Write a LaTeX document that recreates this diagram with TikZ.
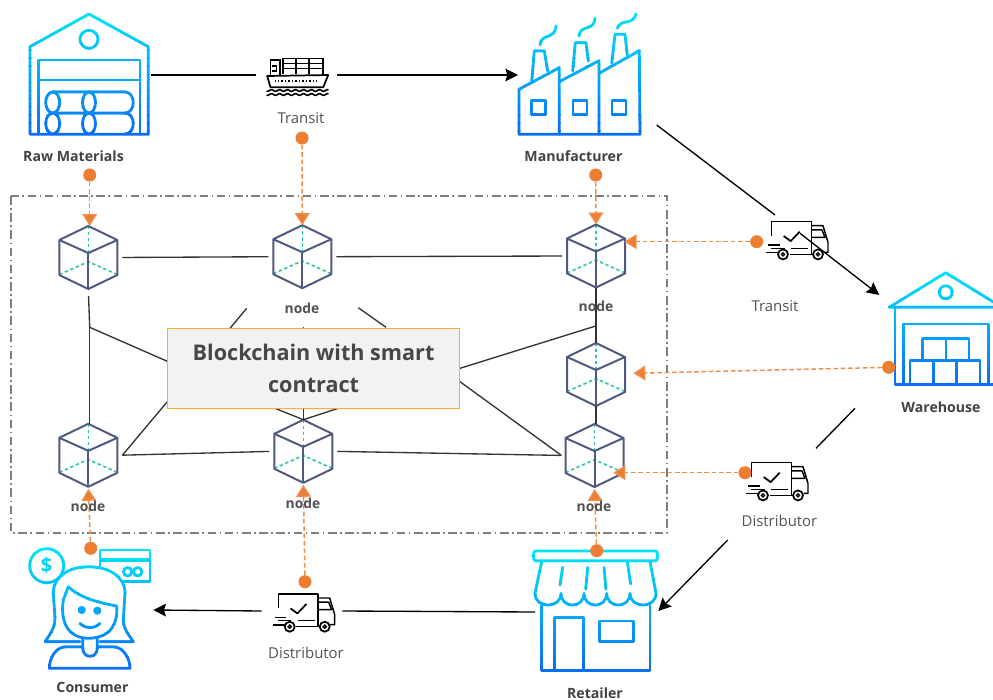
\documentclass[tikz,border=0pt]{standalone}
\usepackage{fontspec}
\setmainfont{Open Sans}
\usetikzlibrary{arrows.meta}

\definecolor{icontop}{HTML}{00E5F7}
\definecolor{iconbot}{HTML}{0A6EF5}
\definecolor{dotorange}{HTML}{ED7D31}
\definecolor{dashorange}{HTML}{F08C4C}
\definecolor{cubeblue}{HTML}{4E5A80}
\definecolor{cubegreen}{HTML}{2EC4A6}
\definecolor{framegray}{HTML}{7F7F7F}
\definecolor{linegray}{HTML}{333333}
\definecolor{boxorange}{HTML}{FFAB33}
\definecolor{boxfill}{HTML}{F2F2F2}

\tikzset{
  hull/.style={inner sep=0pt, outer sep=0pt},
  iconline/.style={draw=iconcol, line width=2.1pt, line join=round, line cap=round},
  blockbox/.style={hull, minimum width=43.5pt, minimum height=47.25pt},
  link/.style={draw=linegray, line width=1pt},
  gap/.style={shorten <=3.75pt, shorten >=3.75pt},
  flow/.style={draw=black, line width=1pt},
  flowtip/.style={flow, -{Stealth[length=9.5pt,width=9.5pt,inset=1.5pt]}},
  dot/.style={circle, fill=dotorange, inner sep=0pt, minimum size=9.75pt},
  mark line/.style={draw=dashorange, line width=1.1pt, dash pattern=on 3.5pt off 2pt,
    -{Triangle[length=9pt,width=11pt,fill=dotorange]}},
  plainlabel/.style={hull, text=black!68, font=\fontsize{11.2}{13}\selectfont},
  boldlabel/.style={hull, text=black!74, font=\fontsize{10.6}{13}\selectfont\bfseries},
  nodelabel/.style={hull, text=black!68, font=\fontsize{10.4}{13}\selectfont\bfseries},
  cube/.pic={
    \draw[cubegreen, line width=1.2pt, dash pattern=on 2.5pt off 2pt] (0,-31.5) -- (0,-4.5);
    \draw[cubegreen, line width=1.2pt, dash pattern=on 2.5pt off 2pt] (-29,17) -- (0,4.2) -- (29,17);
    \draw[cubeblue, line width=1.5pt, line join=round] (0,-31.5) -- (29,-17.5) -- (29,17.5) -- (0,31.5) -- (-29,17.5) -- (-29,-17.5) -- cycle;
    \draw[cubeblue, line width=1.5pt] (-29,-17.5) -- (0,-4.5) -- (29,-17.5);
    \draw[cubeblue, line width=1.5pt] (0,-4.5) -- (0,31.5);
  },
  truck/.pic={
    \draw[black, line width=1.1pt, line join=round] (-26.3,-4.3) -- (-26.3,-18.7) -- (13.3,-18.7) -- (13.3,14) -- (-8.3,14);
    \draw[black, line width=1.1pt] (-6.7,8) -- (10,8);
    \draw[black, line width=1.1pt, line join=round] (13.3,-14.7) -- (25,-14.7) -- (30,2) -- (30,12) -- (25.5,12);
    \draw[black, line width=1.1pt, line join=round] (13.3,-10.5) -- (24,-10.5) -- (27,-3) -- (13.3,-3);
    \draw[black, line width=1.1pt] (-30,4.7) -- (-18.3,4.7);
    \draw[black, line width=1.1pt] (-26.7,8) -- (-13.3,8);
    \draw[black, line width=1.1pt] (-31.7,12.3) -- (-20,12.3);
    \draw[black, line width=1.3pt] (-15,14) circle (5);
    \draw[black, line width=1.3pt] (20,14) circle (5);
    \draw[black, line width=1pt] (-15,14) circle (1.6);
    \draw[black, line width=1pt] (20,14) circle (1.6);
    \draw[black, line width=1.3pt, line join=round] (-14.3,-4.3) -- (-7.3,0.7) -- (1.7,-8.7);
  }
}

\newcommand{\gradicon}[3]{
  \foreach \k in {0,...,15}{
    \pgfmathsetmacro{\mixval}{100*\k/15}
    \pgfmathsetmacro{\ya}{#1+(#2-#1)*\k/16}
    \pgfmathsetmacro{\yb}{#1+(#2-#1)*(\k+1)/16+0.4}
    \colorlet{iconcol}{iconbot!\mixval!icontop}
    \begin{scope}
      \clip (0,\ya) rectangle (993,\yb);
      #3
    \end{scope}
  }
}

\begin{document}
\begin{tikzpicture}[x=0.75pt,y=-0.75pt]
\useasboundingbox (0,0) rectangle (993,700);

\draw[framegray, line width=1.5pt, dash pattern=on 6.5pt off 2.6pt on 1.2pt off 2.6pt] (11,196) rectangle (667.3,532.7);

\gradicon{9}{139}{
  \draw[iconline] (30,134.3) -- (30,46.7) -- (89,14) -- (148.3,46.7) -- (148.3,134.3) -- cycle;
  \draw[iconline] (89,39.3) circle (9);
  \draw[iconline] (38.3,134.3) -- (38.3,60) -- (140,60) -- (140,134.3);
  \draw[iconline] (38.3,80) -- (140,80);
  \draw[iconline] (52.7,92) -- (125,92) .. controls (136,92) and (136,113) .. (125,113) -- (52.7,113);
  \draw[iconline] (125,113) .. controls (136,113) and (136,134) .. (125,134);
  \draw[iconline] (52.7,102.5) ellipse (7 and 10.5);
  \draw[iconline] (52.7,123.5) ellipse (7 and 10.5);
  \draw[iconline] (89,102.5) ellipse (6.5 and 10.5);
  \draw[iconline] (89,123.5) ellipse (6.5 and 10.5);
}

\gradicon{9}{139}{
  \draw[iconline] (519,134.3) -- (519,89.3) -- (559.3,67.7) -- (559.3,134.3);
  \draw[iconline] (559.3,81.7) -- (599,60.7) -- (599,134.3);
  \draw[iconline] (599,73.3) -- (639.3,50.7) -- (640,134.3) -- (519,134.3);
  \draw[iconline] (531.7,81.7) -- (534.3,51) -- (544.3,51) -- (547.7,71);
  \draw[iconline] (572.7,71) -- (575.3,42.7) -- (586,42.7) -- (588.3,61);
  \draw[iconline] (611.7,63.3) -- (615,34.3) -- (625,34.3) -- (627.3,55);
  \draw[iconline] (540,45) .. controls (541,33) and (555,40) .. (556,26);
  \draw[iconline] (579,36) .. controls (580,24) and (594,32) .. (595,18.3);
  \draw[iconline] (617.3,28.3) .. controls (621,18) and (633,26) .. (636,14);
  \draw[iconline] (531.7,100.3) rectangle (545.7,114.3);
  \draw[iconline] (573,100.3) rectangle (587,114.3);
  \draw[iconline] (612,100.3) rectangle (626,114.3);
}

\gradicon{268}{389}{
  \draw[iconline] (889.3,307.3) -- (945.7,272.7) -- (1002,307.3) -- cycle;
  \draw[iconline] (945.7,292.3) circle (6.5);
  \draw[iconline] (895,307.3) -- (895,384.3) -- (1000,384.3);
  \draw[iconline] (903.3,384.3) -- (903.3,324) -- (988.3,324) -- (988.3,384.3);
  \draw[iconline] (922.3,360) -- (922.3,338.3) -- (969,338.3) -- (969,360);
  \draw[iconline] (946,338.3) -- (946,360);
  \draw[iconline] (910,384.3) -- (910,360.7) -- (980,360.7) -- (980,384.3);
  \draw[iconline] (933.3,360.7) -- (933.3,384.3);
  \draw[iconline] (956.7,360.7) -- (956.7,384.3);
}

\gradicon{546}{675}{
  \draw[iconline] (535,551) -- (656,551) .. controls (658,551) and (658,560.7) .. (656,560.7) -- (535,560.7) .. controls (533,560.7) and (533,551) .. (535,551);
  \draw[iconline] (541.7,561.7) -- (535,593.3) .. controls (535,609) and (561,609) .. (561,593.3) .. controls (561,609) and (584,609) .. (584,593.3) .. controls (584,609) and (606.7,609) .. (606.7,593.3) .. controls (606.7,609) and (630,609) .. (630,593.3) .. controls (630,609) and (656,609) .. (656,593.3) -- (650,561.7);
  \draw[iconline] (562.7,567.3) -- (560,585);
  \draw[iconline] (587.7,567.3) -- (585.7,589.3);
  \draw[iconline] (604,567.3) -- (606,589.3);
  \draw[iconline] (627.3,561.7) -- (630.7,584);
  \draw[iconline] (541.7,605) -- (541.7,670.7) -- (650,670.7) -- (650,605);
  \draw[iconline] (554.3,670.7) -- (554.3,617.3) -- (583.3,617.3) -- (583.3,670.7);
  \draw[iconline] (599.3,621) rectangle (633.3,641.7);
}

\gradicon{544}{672}{
  \draw[iconline] (46.7,565.7) circle (17);
  \draw[iconline] (100,566.7) -- (100,550) -- (150,550) -- (150,581.7) -- (123,581.7);
  \draw[iconline, line width=3.6pt, line cap=butt] (100,560) -- (150,560);
  \draw[iconline] (127.7,571.7) circle (4.2);
  \draw[iconline] (137.7,571.7) circle (4.2);
  \draw[iconline] (80,641.7) -- (45,641.7) .. controls (52,632) and (55,626) .. (55,618.3) -- (53.3,593) .. controls (53.3,576) and (70,566.7) .. (88.3,566.7) .. controls (108,566.7) and (125,576) .. (125,593) -- (123.3,620) .. controls (123.3,628) and (128,634) .. (133.3,641.7) -- (100,641.7);
  \draw[iconline] (68.3,586.7) .. controls (80,598) and (100,603) .. (116.7,606) .. controls (118,622) and (112,638) .. (88.3,638.3) .. controls (68,638) and (60,622) .. (63.3,600) -- (68.3,586.7);
  \draw[iconline, fill=iconcol] (81.7,610) circle (2.6);
  \draw[iconline, fill=iconcol] (97.3,610.7) circle (2.6);
  \draw[iconline] (80,623.3) .. controls (85,629) and (95,629) .. (100,623.3);
  \draw[iconline] (82.7,638.3) -- (82.7,648) .. controls (82.7,659) and (97.3,659) .. (97.3,648) -- (97.3,638.3);
  \draw[iconline] (82.7,646.7) -- (66,646.7) .. controls (56,646.7) and (49.3,658) .. (49.3,668.3) -- (130,668.3) .. controls (130,658) and (123,646.7) .. (113,646.7) -- (97.3,646.7);
}

\node[hull, text=icontop!85!iconbot, font=\fontsize{15}{15}\selectfont\bfseries] (dollar) at (46.7,565.7) {\$};

\node[hull, minimum width=93pt, minimum height=91.5pt] (rawmat) at (89,75) {};
\node[hull, minimum width=60.75pt, minimum height=30pt] (ship) at (296.5,75) {};
\node[hull, minimum width=91.5pt, minimum height=91.5pt] (factory) at (579,75) {};
\node[hull, minimum width=90.75pt, minimum height=90pt] (shop) at (595.5,612) {};
\node[hull, minimum width=60.45pt, minimum height=30pt] (truckC) at (302,611) {};
\node[hull, minimum width=94.95pt, minimum height=90pt] (buyer) at (90,610) {};

\begin{scope}[shift={(297.5,76)}]
\draw[black, line width=1.3pt, line join=round] (-30.3,0) -- (-27,11.3) -- (25.7,11.3) -- (30.7,-1) -- cycle;
\draw[black, line width=1.2pt] (-27,0) -- (-27,-16) -- (-17.7,-16) -- (-17.7,0);
\draw[black, line width=1.2pt] (-26,-10) -- (-21,-10) -- (-21,-5) -- (-26,-5);
\draw[black, line width=1.2pt] (-14.3,-2) -- (-14.3,-17.7) -- (25.7,-17.7) -- (25.7,-2);
\draw[black, line width=1.2pt] (-1.7,-17.7) -- (-1.7,-2);
\draw[black, line width=1.2pt] (11.7,-17.7) -- (11.7,-2);
\draw[black, line width=1.2pt] (-14.3,-12.7) -- (25.7,-12.7);
\draw[black, line width=1.2pt] (-14.3,-7.7) -- (25.7,-7.7);
\draw[black, line width=1.2pt, dash pattern=on 1pt off 1.6pt] (-23,5) -- (21,5);
\draw[black, line width=1.2pt] plot[domain=-31:31, samples=50] (\x,{14.5+0.9*sin(\x*45)});
\draw[black, line width=1.2pt] plot[domain=-31:31, samples=50] (\x,{18.5+0.9*sin(\x*45)});
\end{scope}

\pic at (798,240.4) {truck};
\pic at (778,481.4) {truck};
\pic at (304.7,612.7) {truck};

\foreach \name/\x/\y in {blockA/88.3/257.5, blockB/302.3/256.7, blockC/596/256, blockD/596/374.5, blockE/594.5/455.5, blockF/88.3/455.3, blockG/303.3/451.3}{
  \node[blockbox] (\name) at (\x,\y) {};
  \pic at (\x,\y) {cube};
}

\coordinate (joinleft) at (89.7,327.3);
\coordinate (joinright) at (596.7,325.7);
\coordinate (joinlow) at (303.3,419.7);
\coordinate (boxleftA) at (167.3,361.3);
\coordinate (boxleftB) at (167.3,401.7);
\coordinate (boxrightA) at (460,368.3);
\coordinate (boxrightB) at (460,381.7);
\coordinate (spurA) at (246.7,308.3);
\coordinate (spurAend) at (230,328.3);
\coordinate (spurB) at (358.3,307.7);
\coordinate (spurBend) at (386,327.3);
\coordinate (spurC) at (303.7,326.7);
\coordinate (spurCend) at (303.7,332);
\coordinate (lowA) at (275,408.3);
\coordinate (lowB) at (303.3,408.3);
\coordinate (lowC) at (338.3,408.3);

\draw[link, gap] (blockA.east) -- (blockB.west);
\draw[link, gap] (blockB.east) -- (blockC.west);
\draw[link, gap] (blockF.east) -- (blockG.west);
\draw[link, gap] (blockG.east) -- (blockE.west);
\draw[link, shorten <=5.25pt] (blockA.south) -- (joinleft);
\draw[link] (joinleft) -- (blockF.north -| joinleft);
\draw[link] (joinleft) -- (boxleftA);
\draw[link] ([xshift=3.75pt]blockF.east) -- (boxleftB);
\draw[link] (blockC.south) -- (blockD.north);
\draw[link] (joinright) -- (boxrightA);
\draw[link] (blockD.south) -- (blockE.north -| blockD.south);
\draw[link] (boxrightB) -- ([xshift=-3pt]blockE.west);
\draw[link] (spurA) -- (spurAend);
\draw[link] (spurB) -- (spurBend);
\draw[link] (spurC) -- (spurCend);
\draw[link] (lowA) -- (joinlow);
\draw[link] (lowB) -- (joinlow);
\draw[link] (lowC) -- (joinlow);

\node[hull, draw=boxorange, line width=0.9pt, fill=boxfill, minimum width=219pt, minimum height=60pt, align=center, text=black!72, font=\fontsize{16.2}{24}\selectfont\bfseries] (chainbox) at (313.6,368.3) {Blockchain with smart\\contract};

\node[dot] (dotraw) at (89.7,175) {};
\node[dot] (dotship) at (302,138) {};
\node[dot] (dotfactory) at (595.7,175) {};
\node[dot] (dottruckA) at (756.7,241.7) {};
\node[dot] (dothouse) at (888.7,367.3) {};
\node[dot] (dottruckB) at (745,472.7) {};
\node[dot] (dotshop) at (596.7,550.7) {};
\node[dot] (dottruckC) at (305,581.7) {};
\node[dot] (dotbuyer) at (90.7,548.3) {};

\coordinate (tipblockD) at (633.3,373.3);
\coordinate (tipblockE) at (613.3,472.7);
\coordinate (tipblockC) at (624.5,241.7);

\draw[mark line] (dotraw) -- (dotraw |- blockA.north);
\draw[mark line] (dotship) -- (blockB.north);
\draw[mark line] (dotfactory) -- (blockC.north);
\draw[mark line] (dottruckA) -- (tipblockC);
\draw[mark line] (dothouse) -- (tipblockD);
\draw[mark line] (dottruckB) -- (tipblockE);
\draw[mark line, shorten >=1.5pt] (dotshop) -- (blockE.south);
\draw[mark line, shorten >=1.5pt] (dottruckC) -- (blockG.south);
\draw[mark line, shorten >=1.5pt] (dotbuyer) -- (blockF.south);

\coordinate (factoryout) at (656.7,125);
\coordinate (truckAin) at (775,215);
\coordinate (truckAout) at (800,233.3);
\coordinate (houseentry) at (879.3,295);
\coordinate (houseout) at (855,408.3);
\coordinate (truckBin) at (816,448.3);
\coordinate (truckBout) at (727.7,540);
\coordinate (shopentry) at (658.3,611);

\draw[flow] (rawmat.east) -- (ship.west);
\draw[flowtip] (ship.east) -- (ship.east -| factory.west);
\draw[flow] (factoryout) -- (truckAin);
\draw[flowtip] (truckAout) -- (houseentry);
\draw[flow] (houseout) -- (truckBin);
\draw[flowtip] (truckBout) -- (shopentry);
\draw[flow] (shop.west) -- (truckC.east);
\draw[flowtip] (truckC.west) -- (buyer.east);

\node[boldlabel] (labelraw) at (73.5,156) {Raw Materials};
\node[plainlabel] (labelship) at (301,118) {Transit};
\node[boldlabel] (labelfactory) at (573.5,156) {Manufacturer};
\node[plainlabel] (labeltruckA) at (775,306) {Transit};
\node[boldlabel] (labelhouse) at (941,407) {Warehouse};
\node[plainlabel] (labeltruckB) at (779.5,521) {Distributor};
\node[plainlabel] (labeltruckC) at (306,653) {Distributor};
\node[boldlabel] (labelbuyer) at (92.5,687) {Consumer};
\node[boldlabel] (labelshop) at (595,693) {Retailer};
\node[nodelabel] (labelB) at (302,308) {node};
\node[nodelabel] (labelC) at (596,306) {node};
\node[nodelabel] (labelE) at (594,506) {node};
\node[nodelabel] (labelF) at (88,506) {node};
\node[nodelabel] (labelG) at (303,503) {node};
\end{tikzpicture}
\end{document}
